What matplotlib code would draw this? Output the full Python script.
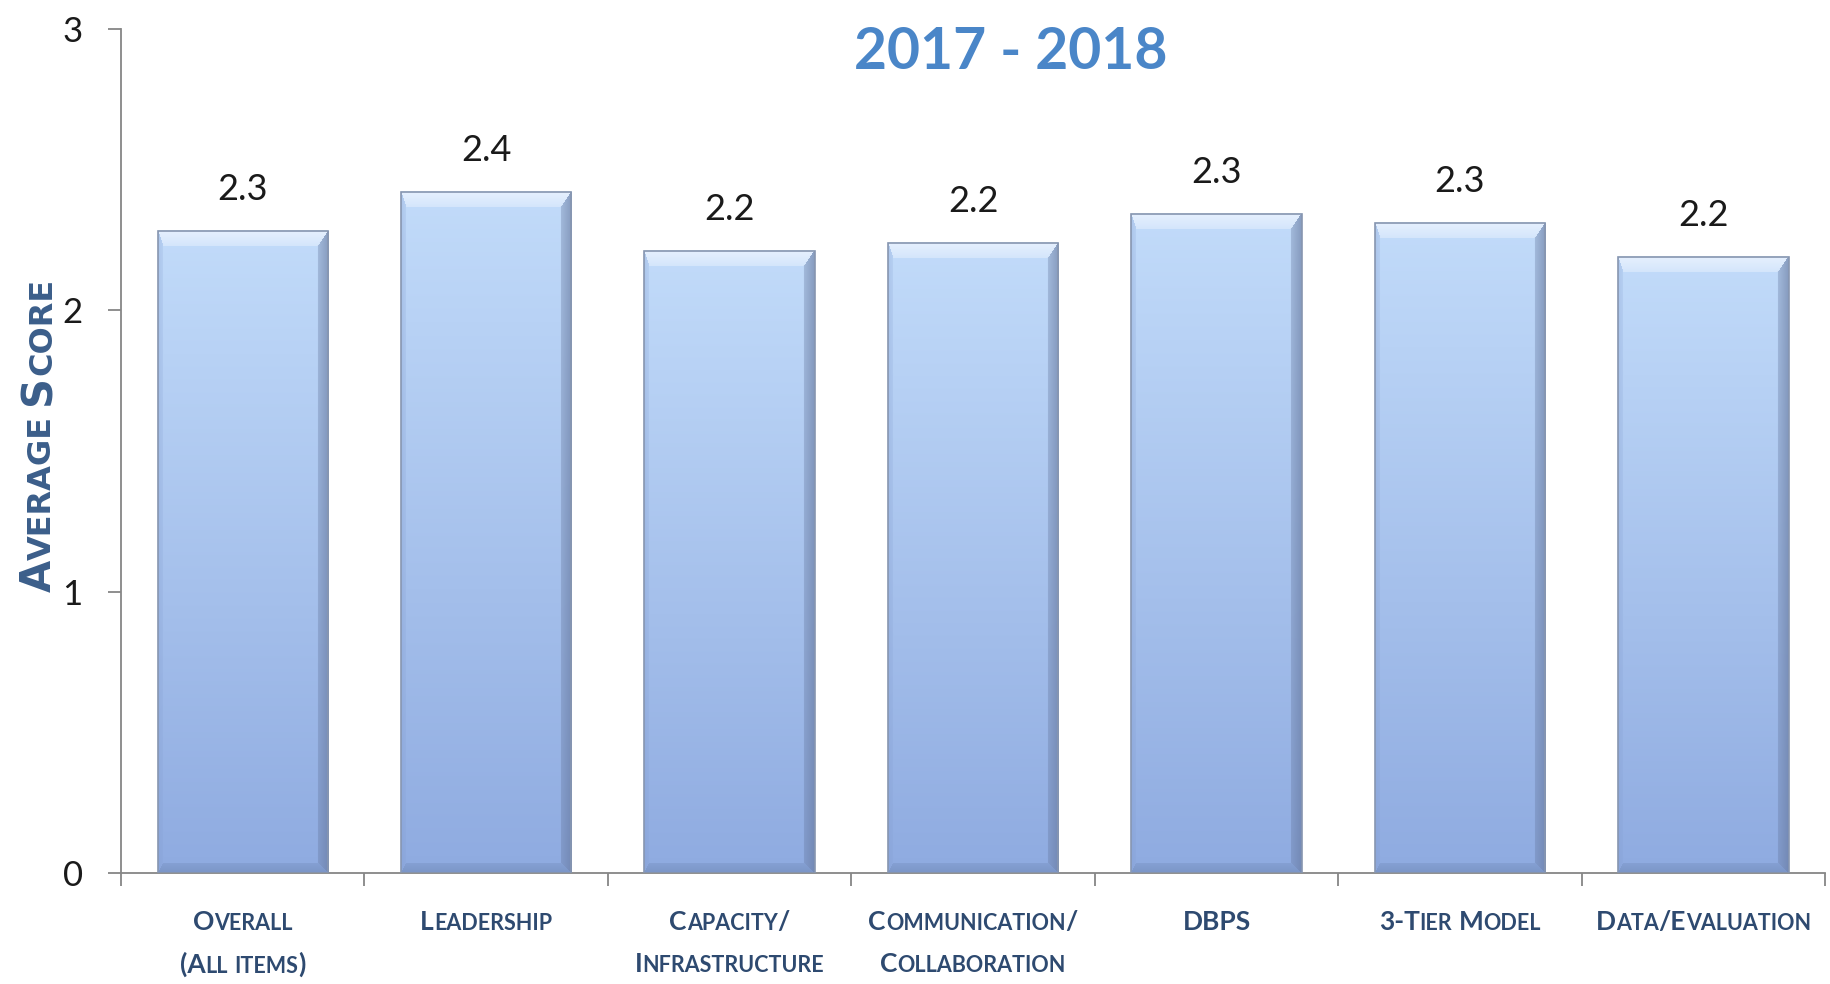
import matplotlib
matplotlib.use("Agg")
import matplotlib.pyplot as plt
import numpy as np
from matplotlib import font_manager
from matplotlib.offsetbox import TextArea, HPacker, VPacker, AnnotationBbox

# data
categories = [
    ["Overall", "(All items)"],
    ["Leadership"],
    ["Capacity/", "Infrastructure"],
    ["Communication/", "Collaboration"],
    ["DBPS"],
    ["3-Tier Model"],
    ["Data/Evaluation"],
]
scores = [2.28, 2.42, 2.21, 2.24, 2.34, 2.31, 2.19]
y_ticks = [0, 1, 2, 3]
title = "2017 - 2018"
y_label = "Average Score"

names = {f.name for f in font_manager.fontManager.ttflist}
FONT = "Liberation Sans Narrow" if "Liberation Sans Narrow" in names else "Lato"
plt.rcParams["font.family"] = FONT

LABEL_COLOR = "#2E4A70"
AXIS_COLOR = "#868686"


def runs_of(word):
    # split a word into (is_lower, chunk) runs for fake small caps
    runs = []
    for ch in word:
        low = ch.islower()
        if runs and runs[-1][0] == low:
            runs[-1][1] += ch
        else:
            runs.append([low, ch])
    return runs


def small_caps_line(line, big, small):
    words = []
    for word in line.split(" "):
        parts = [
            TextArea(s.upper(), textprops=dict(fontsize=small if low else big,
                                               color=LABEL_COLOR, fontweight="bold",
                                               family=FONT))
            for low, s in runs_of(word)
        ]
        words.append(HPacker(children=parts, align="baseline", pad=0, sep=0))
    return HPacker(children=words, align="baseline", pad=0, sep=small * 0.3)


def bevel_image(wpx, hpx):
    ny, nx = max(int(hpx), 2), max(int(wpx), 2)
    i = np.arange(ny)[:, None] + np.zeros((1, nx))
    j = np.arange(nx)[None, :] + np.zeros((ny, 1))
    t = (i / (ny - 1))[..., None]
    top = np.array([0.76, 0.86, 0.98])
    bot = np.array([0.56, 0.67, 0.88])
    img = top * (1 - t) + bot * t
    d = np.stack([i / 16, (nx - 1 - j) / 11, (ny - 1 - i) / 10, j / 5])
    face = d.argmin(0)
    depth = d.min(0)
    edge = depth < 1
    tints = [(np.array([0.95, 0.97, 1.0]), 0.75),
             (np.array([0.38, 0.45, 0.60]), 0.6),
             (np.array([0.42, 0.52, 0.70]), 0.55),
             (np.array([0.50, 0.60, 0.80]), 0.3)]
    for k, (c, a) in enumerate(tints):
        m = edge & (face == k)
        # fade each bevel face towards the inside of the bar
        aa = (a * (1 - 0.5 * depth[m]))[:, None]
        img[m] = img[m] * (1 - aa) + c * aa
    return img


fig = plt.figure(figsize=(18.31, 9.84), dpi=100)
ax = fig.add_axes([0.0661, 0.1123, 0.9307, 0.8587])

x = np.arange(len(scores))
bars = ax.bar(x, scores, width=0.7, facecolor="none", edgecolor="#8796B0",
              linewidth=1.2, zorder=3)
ax.set_xlim(-0.5, len(scores) - 0.5)
ax.set_ylim(0, 3)

for rect in bars.patches:
    x0, w, h = rect.get_x(), rect.get_width(), rect.get_height()
    p = ax.transData.transform([(x0, 0), (x0 + w, h)])
    img = bevel_image(p[1, 0] - p[0, 0], p[1, 1] - p[0, 1])
    ax.imshow(img, extent=(x0, x0 + w, 0, h), aspect="auto", zorder=2,
              interpolation="bilinear")
ax.set_xlim(-0.5, len(scores) - 0.5)
ax.set_ylim(0, 3)

ax.bar_label(bars, labels=[f"{v:.1f}" for v in scores], padding=18,
             fontsize=26, color="#1A1A1A")

for side in ["top", "right"]:
    ax.spines[side].set_visible(False)
for side in ["left", "bottom"]:
    ax.spines[side].set_color(AXIS_COLOR)
    ax.spines[side].set_linewidth(1.3)

ax.set_yticks(y_ticks)
ax.set_yticklabels([str(v) for v in y_ticks])
ax.set_xticks(np.arange(len(scores) + 1) - 0.5)
ax.set_xticklabels([])
ax.tick_params(axis="y", length=9.5, width=1.3, color=AXIS_COLOR, pad=18,
               labelsize=25, labelcolor="#1A1A1A")
ax.tick_params(axis="x", length=9, width=1.3, color=AXIS_COLOR)

for xi, lines in zip(x, categories):
    box = VPacker(children=[small_caps_line(l, 19, 15.5) for l in lines],
                  align="center", pad=0, sep=13)
    ab = AnnotationBbox(box, (xi, 0), xycoords=("data", "axes fraction"),
                        xybox=(0, -26), boxcoords="offset points",
                        box_alignment=(0.5, 1), frameon=False,
                        annotation_clip=False)
    ax.add_artist(ab)

fig.text(0.552, 0.947, title, ha="center", va="center", fontsize=41,
         fontweight="bold", color="#4A86C8")

# y label in small caps, placed run by run along the axis
renderer = fig.canvas.get_renderer()
W, H = fig.bbox.width, fig.bbox.height
pieces = []
for word in y_label.split(" "):
    for low, s in runs_of(word):
        t = fig.text(0, 0, s.upper(), rotation=90, rotation_mode="anchor",
                     ha="left", va="baseline", fontsize=23 if low else 30,
                     fontweight="bold", color="#3B5E8A", family="DejaVu Sans")
        pieces.append(t)
    pieces.append(None)
pieces = pieces[:-1]
gap = 11
lengths = [gap if t is None else t.get_window_extent(renderer).height for t in pieces]
y = (1 - 435 / 984) * H - sum(lengths) / 2
for t, L in zip(pieces, lengths):
    if t is not None:
        t.set_position((51 / W, y / H))
    y += L

fig.savefig("out.png", dpi=100, facecolor="white")
